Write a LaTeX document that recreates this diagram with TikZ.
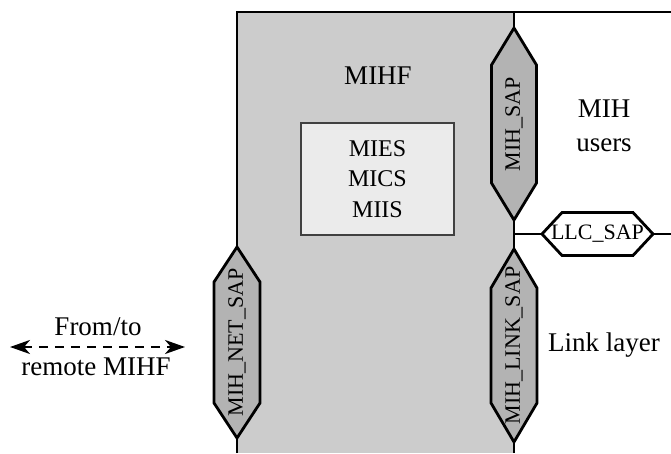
\documentclass[tikz,border=0pt]{standalone}
\usepackage{fontspec}
\setmainfont{Liberation Serif}
\usetikzlibrary{calc,arrows.meta}

\definecolor{mihfgray}{HTML}{CCCCCC}
\definecolor{sapgray}{HTML}{B3B3B3}
\definecolor{funcgray}{HTML}{EBEBEB}

\tikzset{
  x=1pt, y=1pt,
  outline/.style={line width=2.8pt, line join=miter},
  saplabel/.style={inner sep=0pt, font=\fontsize{22}{24}\selectfont},
  bigtext/.style={inner sep=0pt, align=center, font=\fontsize{27}{34}\selectfont},
  frame/.style={draw=none, inner sep=0pt, outer sep=0pt},
}

% vertical access point: #1 name, #2 centre, #3 width, #4 height, #5 tip length, #6 label
\newcommand{\vsap}[6]{%
  \node[frame, minimum width=#3, minimum height=#4] (#1) at (#2) {};
  \draw[outline, fill=sapgray]
    (#1.north) -- ($(#1.north east)+(0,-#5)$) -- ($(#1.south east)+(0,#5)$)
    -- (#1.south) -- ($(#1.south west)+(0,#5)$) -- ($(#1.north west)+(0,-#5)$) -- cycle;
  \node[saplabel, rotate=90] at (#1.center) {#6};
}
% horizontal access point
\newcommand{\hsap}[6]{%
  \node[frame, minimum width=#3, minimum height=#4] (#1) at (#2) {};
  \draw[outline, fill=white]
    (#1.west) -- ($(#1.north west)+(#5,0)$) -- ($(#1.north east)+(-#5,0)$)
    -- (#1.east) -- ($(#1.south east)+(-#5,0)$) -- ($(#1.south west)+(#5,0)$) -- cycle;
  \node[saplabel] at (#1.center) {#6};
}

\begin{document}
\begin{tikzpicture}
\useasboundingbox (0,0) rectangle (671,453);

% MIHF body
\fill[mihfgray] (237,0) rectangle (514,441);
\coordinate (topleft) at (237,441);
\coordinate (topright) at (671,441);
\coordinate (botleft) at (237,0);
\coordinate (botmid) at (514,0);
\coordinate (topmid) at (514,441);
\draw[outline] (botleft) -- (topleft) -- (topright);

\node[bigtext] (mihf) at (378,377) {MIHF};
\node[draw=black!75, line width=1.8pt, fill=funcgray, minimum width=153, minimum height=112,
      bigtext, font=\fontsize{24}{30.5}\selectfont] (func) at (377.5,274) {MIES\\MICS\\MIIS};

% upper layer / lower layer labels
\node[bigtext] (users) at (604,327) {MIH\\users};
\node[bigtext] (link) at (604,108) {Link layer};

% right boundary and access points
\vsap{mihsap}{514,329}{45}{192}{37}{MIH\_SAP}
\vsap{linksap}{514,107.5}{46}{193}{39}{MIH\_LINK\_SAP}
\vsap{netsap}{237,110.5}{46}{191}{35}{MIH\_NET\_SAP}
\hsap{llcsap}{597.5,219}{111}{43}{20}{LLC\_SAP}

\coordinate (llcleft) at (514,219);
\coordinate (llcright) at (671,219);
\draw[outline] (topmid) -- (mihsap.north);
\draw[outline] (mihsap.south) -- (linksap.north);
\draw[outline] (linksap.south) -- (botmid);
\draw[outline] (llcleft) -- (llcsap.west);
\draw[outline] (llcsap.east) -- (llcright);

% remote MIHF link
\node[bigtext] (fromto) at (98,126) {From/to};
\node[bigtext] (remote) at (96,86) {remote MIHF};
\coordinate (arrowL) at (10,106);
\coordinate (arrowR) at (185,106);
\draw[line width=2.6pt, dash pattern=on 9pt off 7pt,
      {Stealth[length=20pt,width=14pt,inset=6pt]}-{Stealth[length=20pt,width=14pt,inset=6pt]}]
  (arrowL) -- (arrowR);
\end{tikzpicture}
\end{document}
